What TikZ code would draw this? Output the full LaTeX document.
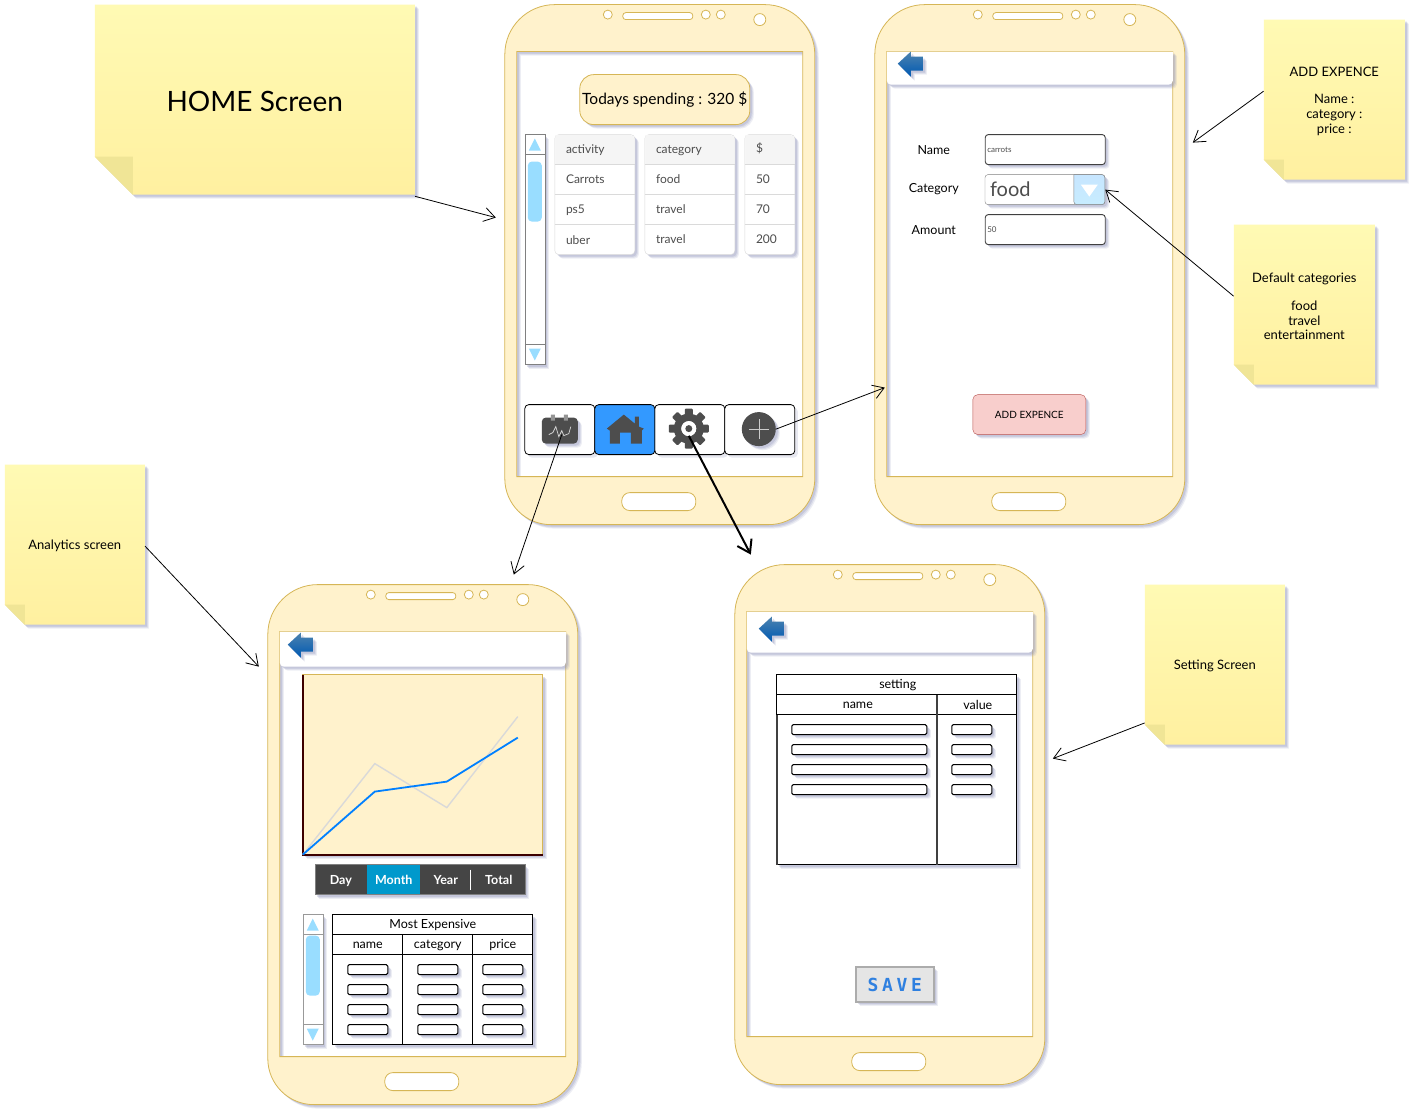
\documentclass[tikz,border=0pt]{standalone}
\usepackage{fontspec}
\setmainfont{Lato}
\newfontfamily\savefont[LetterSpace=20]{DejaVu Sans Mono}
\usetikzlibrary{shadows,arrows.meta}

\definecolor{phonefill}{HTML}{FFF2CC}
\definecolor{phoneline}{HTML}{D6B656}
\definecolor{shadowblue}{HTML}{8A8FB8}
\definecolor{scrollblue}{HTML}{99DDFF}
\definecolor{greytext}{HTML}{4D4D4D}
\definecolor{darkicon}{HTML}{4D4D4D}
\definecolor{cellline}{HTML}{DADADA}
\definecolor{notetop}{HTML}{FFFAB4}
\definecolor{notebottom}{HTML}{FFF0A0}
\definecolor{notecrease}{HTML}{F0E596}
\definecolor{pinkfill}{HTML}{F8CECC}
\definecolor{pinkline}{HTML}{B85450}
\definecolor{monthblue}{HTML}{0099CC}
\definecolor{saveblue}{HTML}{2F80E0}
\definecolor{navblue}{HTML}{3399FF}

\newcommand{\fs}[1]{\fontsize{#1}{#1}\selectfont}
\newcommand{\dropped}[1]{\raisebox{-1.5pt}{#1}}

\tikzset{
  softshadow/.style={
    drop shadow={shadow xshift=4pt,shadow yshift=-4pt,fill=shadowblue,opacity=.15},
    drop shadow={shadow xshift=3pt,shadow yshift=-3pt,fill=shadowblue,opacity=.2},
    drop shadow={shadow xshift=2pt,shadow yshift=-2pt,fill=shadowblue,opacity=.25}},
  notebody/.style={top color=notetop,bottom color=notebottom,softshadow},
  notefold/.style={fill=notecrease},
  notetext/.style={align=center,inner sep=0pt,text=black,font=\fs{13}},
  phoneline/.style={draw=phoneline,line width=.8pt},
  smallbox/.style={draw=black,fill=white,line width=1pt,rounded corners=1.5pt,softshadow},
  tablebox/.style={draw=black,fill=white,line width=1pt,softshadow},
  navbox/.style={draw=black,line width=.8pt,rounded corners=4pt},
  cellcol/.style={draw=cellline,fill=white,rounded corners=4pt,softshadow},
  backarrow/.style={top color=blue!45!cyan!55!black!70!white,bottom color=blue!50!cyan!70!black,softshadow},
  arrowthin/.style={draw,line width=.8pt,-{Straight Barb[length=11pt,width=14pt,line width=.8pt]}},
  arrowthick/.style={draw,line width=2pt,-{Straight Barb[length=12pt,width=16pt,line width=2pt]}},
  phone/.pic={
    \path[phoneline,fill=phonefill,even odd rule,softshadow]
      (0,50) [rounded corners=50pt] -- (0,0) -- (310,0)
      [rounded corners=0pt] -- (310,250) [rounded corners=46pt] -- (310,520) -- (0,520)
      [rounded corners=0pt] -- (0,50) -- cycle
      (12,47) rectangle (298,472);
    \draw[phoneline,fill=white,rounded corners=3pt] (118,8) rectangle (188,15);
    \foreach \holex in {103,201,216} \draw[phoneline,fill=white] (\holex,10) circle (4.5);
    \draw[phoneline,fill=white] (255,15) circle (6);
    \draw[phoneline,fill=white,rounded corners=8pt] (117,488) rectangle (191,506);
  },
}

\newcommand{\stickynote}[7]{
  \path[notebody] (#2,#3) -- (#4,#3) -- (#4,#5) -- ({#2+#6},#5) -- (#2,{#5-#6}) -- cycle;
  \path[notefold] (#2,{#5-#6}) -- ({#2+#6},{#5-#6}) -- ({#2+#6},#5) -- cycle;
  \node[notetext,minimum width={(#4-#2)*1pt},minimum height={(#5-#3)*1pt}] (#1)
    at ({(#2+#4)/2},{(#3+#5)/2+1.5}) {#7};
}

\newcommand{\appbar}[6]{
  \path[fill=white,softshadow] (#1,#2) -- (#3,#2) [rounded corners=4pt] -- (#3,#4) -- (#1,#4)
    [rounded corners=0pt] -- (#1,#2) -- cycle;
  \begin{scope}[shift={(#1,#2+#6)}]
    \path[backarrow] (#5,12) -- ({#5+13},0) -- ({#5+13},5) -- ({#5+25},5) -- ({#5+25},19)
      -- ({#5+13},19) -- ({#5+13},25) -- cycle;
  \end{scope}
}

\begin{document}
\begin{tikzpicture}[x=1pt,y=-1pt]

  \useasboundingbox (.2,.4) rectangle (1421.2,1116.4);
  \fill[white] (.2,.4) rectangle (1421.2,1116.4);

  % phones
  \pic at (505,5)   {phone};
  \pic at (875,5)   {phone};
  \pic at (268,585) {phone};
  \pic at (735,565) {phone};

  % notes
  \stickynote{homeNote}{95}{5}{415}{195}{38}{\fs{28}HOME Screen}
  \stickynote{addNote}{1264}{20}{1405}{180}{20}{ADD EXPENCE\\[14pt]Name :\\[2pt]category :\\[2pt]price :}
  \stickynote{defaultNote}{1234}{225}{1375}{385}{20}{Default categories\\[15pt]food\\[2pt]travel\\[1pt]entertainment}
  \stickynote{analyticsNote}{5}{465}{145}{625}{20}{Analytics screen}
  \stickynote{settingNote}{1145}{585}{1285}{745}{20}{Setting Screen}

  % home screen
  \node[phoneline,fill=phonefill,rounded corners=14pt,softshadow,minimum width=170pt,minimum height=50pt,inner sep=0pt] (todayBox)
    at (665,100) {\fs{15.5}\dropped{Todays spending : 320 \$}};

  \path[draw=gray,fill=white,softshadow] (525,135) rectangle (545,365);
  \draw[gray] (525,155) -- (545,155) (525,345) -- (545,345);
  \fill[scrollblue] (535,139) -- (541,151) -- (529,151) -- cycle;
  \fill[scrollblue] (535,361) -- (541,349) -- (529,349) -- cycle;
  \fill[scrollblue,rounded corners=4pt] (528,162) rectangle (542,222);

  \path[cellcol] (555,135) rectangle (635,255);
  \path[cellcol] (645,135) rectangle (735,255);
  \path[cellcol] (745,135) rectangle (795,255);
  \begin{scope}
    \fill[gray!8,rounded corners=4pt] (555.5,135.5) -- (634.5,135.5) [rounded corners=0pt] -- (634.5,165) -- (555.5,165) -- cycle;
    \fill[gray!8,rounded corners=4pt] (645.5,135.5) -- (734.5,135.5) [rounded corners=0pt] -- (734.5,165) -- (645.5,165) -- cycle;
    \fill[gray!8,rounded corners=4pt] (745.5,135.5) -- (794.5,135.5) [rounded corners=0pt] -- (794.5,165) -- (745.5,165) -- cycle;
    \foreach \rowy in {165,195,225} {
      \draw[cellline] (555,\rowy) -- (635,\rowy);
      \draw[cellline] (645,\rowy) -- (735,\rowy);
      \draw[cellline] (745,\rowy) -- (795,\rowy);
    }
  \end{scope}

  \begin{scope}[every node/.style={anchor=west,inner sep=0pt,text=greytext,font=\fs{12}}]
    \node (cellA1) at (566,151) {activity};
    \node (cellA2) at (566,180) {Carrots};
    \node (cellA3) at (566,211) {ps5};
    \node (cellA4) at (566,241) {uber};
    \node (cellB1) at (656,151) {category};
    \node (cellB2) at (656,180) {food};
    \node (cellB3) at (656,210) {travel};
    \node (cellB4) at (656,240) {travel};
    \node (cellC1) at (756,149) {\$};
    \node (cellC2) at (756,180) {50};
    \node (cellC3) at (756,210) {70};
    \node (cellC4) at (756,240) {200};
  \end{scope}

  % bottom bar
  \path[navbox,fill=white,drop shadow={shadow xshift=3pt,shadow yshift=-3pt,fill=shadowblue,opacity=.2}] (525,405) rectangle (595,455);
  \path[navbox,fill=white,drop shadow={shadow xshift=3pt,shadow yshift=-3pt,fill=shadowblue,opacity=.2}] (655,405) rectangle (725,455);
  \path[navbox,fill=white,drop shadow={shadow xshift=3pt,shadow yshift=-3pt,fill=shadowblue,opacity=.2}] (725,405) rectangle (795,455);
  \path[navbox,fill=navblue] (595,405) rectangle (655,455);

  \node[fill=darkicon,rounded corners=4pt,minimum width=36pt,minimum height=26pt,inner sep=0pt,softshadow] (statsIcon) at (560,431) {};
  \fill[darkicon!60!white] (551,415) rectangle (555,421) (564,415) rectangle (568,421);
  \draw[white!85!black,line width=.7pt] (549,435) -- (553,433) -- (556,427) -- (559,437) -- (562,431) -- (564,436) -- (569,434) -- (571,427);
  \coordinate (statsOut) at (562,435);

  \fill[darkicon] (607,429) -- (624,415) -- (635,424) -- (635,417) -- (639,417) -- (639,427) -- (644,429) -- (642,431) -- (642,444)
    -- (631,444) -- (631,433) -- (620,433) -- (620,444) -- (610,444) -- (610,431) -- cycle;

  \node[circle,fill=darkicon,minimum size=14pt,inner sep=0pt] (gearHub) at (689,429) {};
  \foreach \gearangle in {0,45,...,315}
    \fill[darkicon,rotate around={\gearangle:(689,429)},rounded corners=1pt] (685,409) rectangle (693,418);
  \fill[darkicon,even odd rule] (689,429) circle (15) (689,429) circle (7.5);
  \fill[white] (689,429) circle (7.5);
  \fill[darkicon] (689,429) circle (3.5);

  \node[circle,fill=darkicon,minimum size=34pt,inner sep=0pt,softshadow] (plusIcon) at (759,429.5) {};
  \draw[white!80!black,line width=.5pt] (749,429.5) -- (769,429.5) (759,419.5) -- (759,439.5);

  % add expence screen
  \appbar{887}{52}{1173}{85}{11}{0}

  \begin{scope}[every node/.style={inner sep=0pt,font=\fs{12.5}}]
    \node (nameLabel)     at (934,150) {Name};
    \node (categoryLabel) at (934,190) {Category};
    \node (amountLabel)   at (934,230) {Amount};
  \end{scope}

  \begin{scope}[every node/.style={draw=black!75,fill=white,line width=.9pt,rounded corners=3pt,minimum width=120pt,minimum height=30pt,
      inner sep=2pt,softshadow,anchor=west,align=left,text=greytext,font=\fs{8}}]
    \node[text width=116pt] (nameBox)   at (985,150) {\dropped{carrots}};
    \node[text width=116pt] (amountBox) at (985,230) {\dropped{50}};
  \end{scope}

  \node[draw=gray,fill=white,rounded corners=3pt,minimum width=120pt,minimum height=30pt,inner sep=0pt,softshadow,anchor=west,text=greytext] (categoryBox)
    at (985,190) {};
  \node[anchor=west,inner sep=0pt,text=greytext,font=\fs{20}] (categoryText) at (990,190) {food};
  \path[draw=gray,top color=blue!45!cyan!22!white,bottom color=scrollblue!55!white,rounded corners=3pt] (1074,175) -- (1105,175) -- (1105,205) -- (1074,205) [rounded corners=0pt] -- cycle;
  \fill[white] (1081,185) -- (1098,185) -- (1089.5,197) -- cycle;

  \node[draw=pinkline,fill=pinkfill,rounded corners=5pt,minimum width=113pt,minimum height=40pt,inner sep=0pt,softshadow,font=\fs{10}] (addButton)
    at (1029.5,415) {\dropped{ADD EXPENCE}};

  % analytics screen
  \appbar{280}{632}{566}{667}{8}{1}

  \path[phoneline,fill=phonefill,softshadow] (303,675) rectangle (543,855);
  \draw[black!60!red!60!black,line width=2pt] (303,675) -- (303,855) -- (543,855);
  \draw[gray!30,line width=1.4pt] (303,855) -- (375,764) -- (447,808) -- (518,717);
  \draw[blue!50!cyan,line width=1.8pt] (303,855) -- (375,792) -- (447,782) -- (518,738);

  \path[draw=gray,fill=black!73,softshadow] (315,865) rectangle (525,895);
  \fill[monthblue] (367,865) rectangle (420,894);
  \draw[white] (470,870) -- (470,890);
  \begin{scope}[every node/.style={inner sep=0pt,text=white,font=\fs{12.5}\bfseries}]
    \node (dayTab)   at (341,881) {Day};
    \node (monthTab) at (394,880) {Month};
    \node (yearTab)  at (446,880) {Year};
    \node (totalTab) at (499,880) {Total};
  \end{scope}

  \path[draw=gray!80,fill=white,softshadow] (303,915) rectangle (323,1045);
  \draw[gray!80] (303,935) -- (323,935) (303,1025) -- (323,1025);
  \fill[scrollblue] (313,919) -- (319,931) -- (307,931) -- cycle;
  \fill[scrollblue] (313,1041) -- (319,1029) -- (307,1029) -- cycle;
  \fill[scrollblue,rounded corners=4pt] (306,936) rectangle (320,996);

  \path[tablebox] (333,915) rectangle (533,1045);
  \draw[line width=.8pt] (333,935) -- (533,935) (333,955) -- (533,955)
    (403,935) -- (403,1045) (473,935) -- (473,1045);
  \begin{scope}[every node/.style={inner sep=0pt,font=\fs{12.5}}]
    \node (expenseTitle) at (433,925.5) {Most Expensive};
    \node (expenseName)  at (368,945.5) {name};
    \node (expenseCat)   at (438,945.5) {category};
    \node (expensePrice) at (503,945.5) {price};
  \end{scope}
  \foreach \rowy in {965,985,1005,1025} {
    \path[smallbox] (348,\rowy) rectangle (388,\rowy+10);
    \path[smallbox] (418,\rowy) rectangle (458,\rowy+10);
    \path[smallbox] (483,\rowy) rectangle (523,\rowy+10);
  }

  % setting screen
  \appbar{747}{612}{1033}{653}{12}{5}

  \path[tablebox] (777,675) rectangle (1017,865);
  \draw[line width=.8pt] (777,695) -- (1017,695) (777,715) -- (1017,715);
  \draw[line width=1.4pt,black!75] (937,695) -- (937,865) (777,715) -- (777,865);
  \begin{scope}[every node/.style={inner sep=0pt,font=\fs{12.5}}]
    \node (settingTitle) at (898,685.5) {setting};
    \node (settingName)  at (858,705.5) {name};
    \node (settingValue) at (978,705.5) {value};
  \end{scope}
  \foreach \rowy in {725,745,765,785} {
    \path[smallbox] (792,\rowy) rectangle (927,\rowy+10);
    \path[smallbox] (952,\rowy) rectangle (992,\rowy+10);
  }

  \node[draw=gray!65,line width=1.6pt,fill=gray!20,minimum width=78pt,minimum height=35pt,inner sep=0pt,softshadow,text=saveblue,font=\fs{18}\savefont\bfseries] (saveButton)
    at (895,985) {\dropped{SAVE}};

  % connectors
  \coordinate (homeIn)      at (496,218);
  \coordinate (addIn)       at (1193,143);
  \coordinate (addScreenIn) at (885,388);
  \coordinate (statsIn)     at (514,575);
  \coordinate (settingIn)   at (751,555);
  \coordinate (chartIn)     at (259,667);
  \coordinate (settingNoteIn) at (1053,759);

  \begin{scope}[every edge/.style={arrowthin}]
    \path (homeNote.south east) edge (homeIn);
    \path (addNote.172)         edge (addIn);
    \path (defaultNote.172)     edge (categoryBox.east);
    \path (plusIcon.east)       edge (addScreenIn);
    \path (statsOut)            edge (statsIn);
    \path (analyticsNote.east)  edge (chartIn);
    \path (settingNote.219)     edge (settingNoteIn);
  \end{scope}

  \path (gearHub.south) edge[arrowthick] (settingIn);

\end{tikzpicture}
\end{document}
